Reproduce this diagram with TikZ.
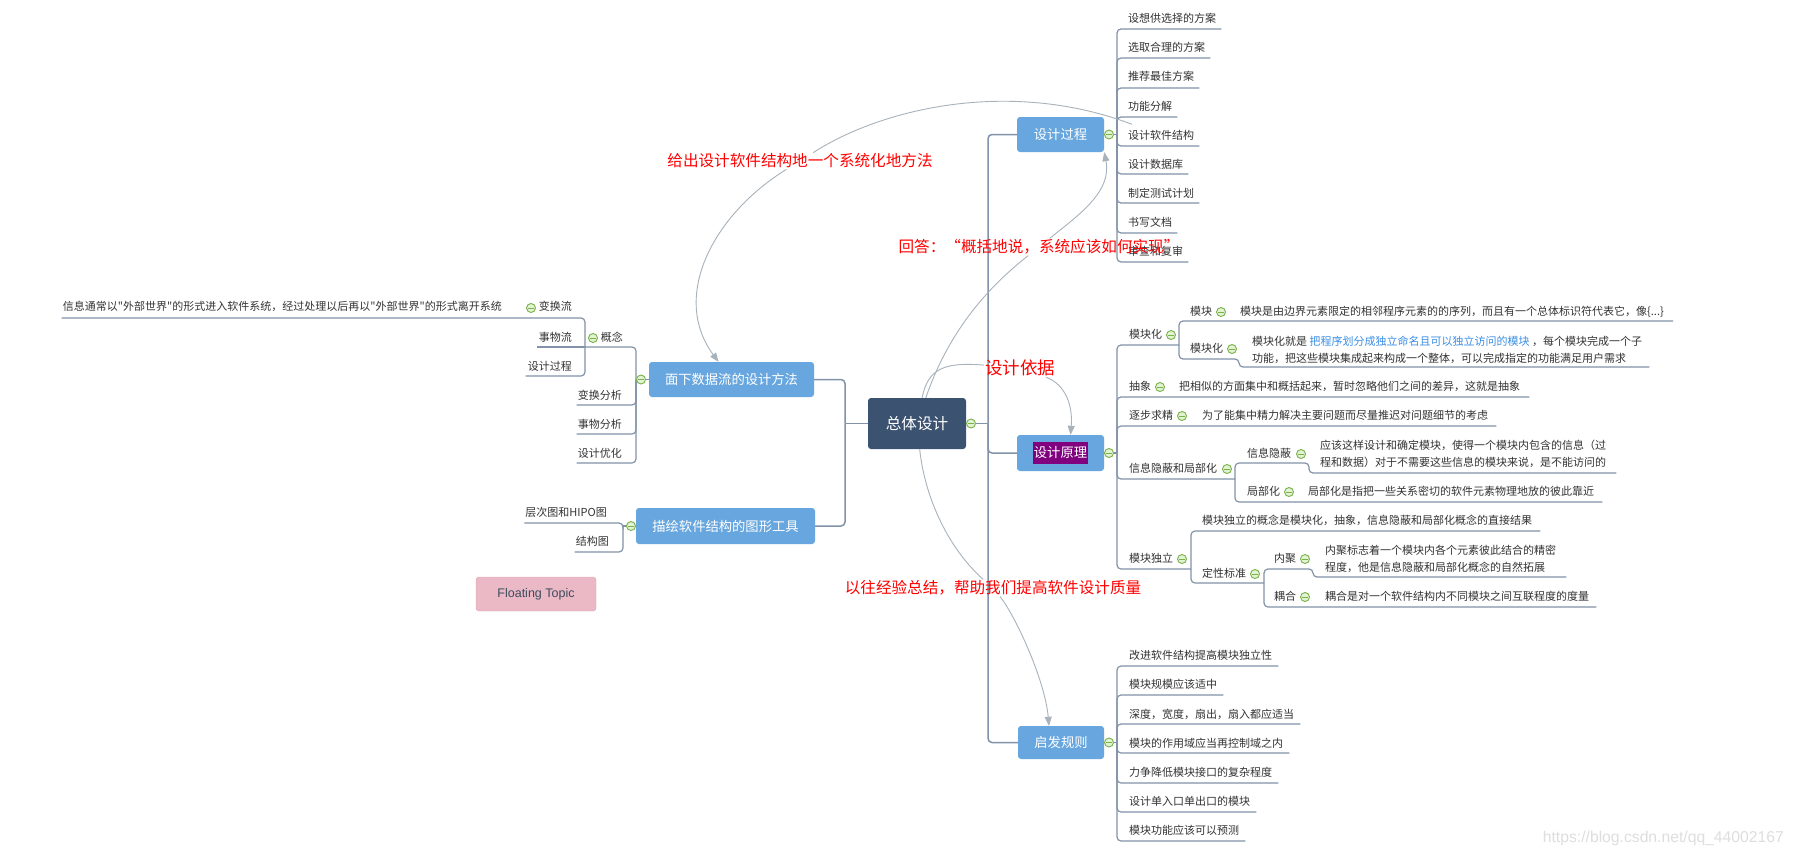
\documentclass[tikz,border=0pt]{standalone}
\usepackage{fontspec}
\setmainfont{Noto Sans CJK SC}
\newfontfamily\cjkp{Noto Sans CJK SC}
\newfontfamily\latf{Liberation Sans}
\usetikzlibrary{arrows.meta}
\definecolor{lnc}{HTML}{8292A8}
\definecolor{txt}{HTML}{333333}
\definecolor{tblue}{HTML}{67A6DE}
\definecolor{tnavy}{HTML}{3C5271}
\definecolor{colg}{HTML}{78B24A}
\definecolor{colf}{HTML}{E4F2D4}
\definecolor{relc}{HTML}{A8B2BA}
\definecolor{hl}{HTML}{800080}
\definecolor{lblue}{HTML}{3A8EE6}
\definecolor{ftf}{HTML}{EBB9C6}
\definecolor{ftd}{HTML}{E2A2B4}
\definecolor{ftt}{HTML}{3E4C5E}
\newcommand\fsz[1]{\fontsize{#1}{#1}\selectfont}
\newcommand\sq{{\cjkp"}}
\begin{document}
\begin{tikzpicture}[x=1pt,y=-1pt,
 ln/.style={draw=lnc, line width=1.2pt, rounded corners=4pt},
 it/.style={font=\fsz{11}, text=txt, inner sep=0pt, text height=9pt, text depth=2pt, anchor=west},
 itr/.style={it, anchor=east},
 ml/.style={font=\fontsize{11}{17}\selectfont, text=txt, inner sep=0pt, align=left, anchor=west},
 topic/.style={fill=tblue, text=white, rounded corners=3pt, font=\fsz{13.3}, inner sep=0pt, minimum height=35pt},
 col/.style={circle, draw=colg, fill=colf, line width=0.9pt, minimum size=9pt, inner sep=0pt,
   path picture={\draw[colg,line width=1pt] ([xshift=-2.6pt]path picture bounding box.center) -- ([xshift=2.6pt]path picture bounding box.center);}},
 rel/.style={draw=relc, line width=0.9pt},
 relarr/.style={rel, -{Triangle[length=9pt,width=7pt]}},
 note/.style={text=red, font=\fsz{15.6}, inner sep=1pt}]
\fill[white] (0,0) rectangle (1796,857);
\useasboundingbox (0,0) rectangle (1796,857);

% main topics
\node[topic, fill=tnavy, font=\fsz{15.6}, minimum width=98pt, minimum height=51pt] (zt) at (917,423.5) {总体设计};
\node[topic, minimum width=87pt] (sjgc) at (1060.5,134.5) {设计过程};
\node[topic, minimum width=87pt, minimum height=36pt] (ylyl) at (1060.5,453) {};
\node[fill=hl, text=white, font=\fsz{13.3}, inner xsep=0.5pt, inner ysep=4.5pt, text height=10.5pt, text depth=2.5pt] (ylt) at (ylyl.center) {设计原理};
\node[topic, minimum width=86pt, minimum height=33pt] (qf) at (1061,742.5) {启发规则};
\node[topic, minimum width=165pt] (mx) at (731.5,379.5) {面下数据流的设计方法};
\node[topic, minimum width=179pt, minimum height=36pt] (hz) at (725.5,526) {描绘软件结构的图形工具};
\node[fill=ftf, draw=ftd, rounded corners=3pt, minimum width=120pt, minimum height=34pt, text=ftt, font=\latf\fsz{12.5}] (ft) at (536,594) {Floating Topic};

% trunks
\coordinate (zr) at (988,423.5);
\coordinate (zl) at (845,423.5);
\draw[ln, line width=1.5pt] (zt.east) -- (zr);
\draw[ln, line width=1.5pt] (zr) |- (sjgc.west);
\draw[ln, line width=1.5pt] (zr) |- (ylyl.west);
\draw[ln, line width=1.5pt] (zr) |- (qf.west);
\draw[ln, line width=1.5pt] (zt.west) -- (zl);
\draw[ln, line width=1.5pt] (zl) |- (mx.east);
\draw[ln, line width=1.5pt] (zl) |- (hz.east);

% 设计过程
\coordinate (b1) at (1117,134.5);
\draw[ln] (sjgc.east) -- (b1);
\foreach \nn/\tx/\cy/\uy in {1/设想供选择的方案/19/29, 2/选取合理的方案/48/58, 3/推荐最佳方案/77/88, 4/功能分解/107/117, 5/设计软件结构/136/146, 6/设计数据库/165/174, 7/制定测试计划/194/203, 8/书写文档/223/233, 9/审查和复审/252/262}
{\node[it] (d\nn) at (1128,\cy) {\tx};
 \draw[ln] (b1) |- ([xshift=5pt]d\nn.east |- 0,\uy);}

% 启发规则
\coordinate (b3) at (1117,742.5);
\draw[ln] (qf.east) -- (b3);
\foreach \nn/\tx/\cy/\uy in {1/改进软件结构提高模块独立性/656/666, 2/模块规模应该适中/685/695, 3/深度，宽度，扇出，扇入都应适当/715/724, 4/模块的作用域应当再控制域之内/744/753, 5/力争降低模块接口的复杂程度/773/783, 6/设计单入口单出口的模块/802/812, 7/模块功能应该可以预测/831/841}
{\node[it] (h\nn) at (1129,\cy) {\tx};
 \draw[ln] (b3) |- ([xshift=6pt]h\nn.east |- 0,\uy);}

% 设计原理
\coordinate (b2) at (1117,453);
\draw[ln] (ylyl.east) -- (b2);
\node[it] (a1) at (1129,335) {模块化};
\coordinate (b21) at (1179,345);
\draw[ln] (b2) |- (b21);
\node[it] (a11) at (1190,312) {模块};
\node[it] (a111) at (1240,312) {模块是由边界元素限定的相邻程序元素的的序列，而且有一个总体标识符代表它，像\{...\}};
\draw[ln] (b21) |- ([xshift=9pt]a111.east |- 0,321);
\node[it] (a12) at (1190,349) {模块化};
\node[ml] (a121) at (1252,350) {模块化就是 {\color{lblue}把程序划分成独立命名且可以独立访问的模块} ，每个模块完成一个子\\功能，把这些模块集成起来构成一个整体，可以完成指定的功能满足用户需求};
\draw[ln] (b21) |- (1239,359) |- ([xshift=7pt]a121.east |- 0,367);

\node[it] (a2) at (1129,387) {抽象};
\node[it] (a21) at (1179,387) {把相似的方面集中和概括起来，暂时忽略他们之间的差异，这就是抽象};
\draw[ln] (b2) |- ([xshift=9pt]a21.east |- 0,397);

\node[it] (a3) at (1129,416) {逐步求精};
\node[it] (a31) at (1202,416) {为了能集中精力解决主要问题而尽量推迟对问题细节的考虑};
\draw[ln] (b2) |- ([xshift=8pt]a31.east |- 0,426);

\node[it] (a4) at (1129,469) {信息隐蔽和局部化};
\coordinate (b24) at (1235,479);
\draw[ln] (b2) |- (b24);
\node[it] (a41) at (1247,454) {信息隐蔽};
\node[ml] (a411) at (1320,454) {应该这样设计和确定模块，使得一个模块内包含的信息（过\\程和数据）对于不需要这些信息的模块来说，是不能访问的};
\draw[ln] (b24) |- (1309,463) |- ([xshift=10pt]a411.east |- 0,473);
\node[it] (a42) at (1247,492) {局部化};
\node[it] (a421) at (1308,492) {局部化是指把一些关系密切的软件元素物理地放的彼此靠近};
\draw[ln] (b24) |- ([xshift=8pt]a421.east |- 0,502);

\node[it] (a5) at (1129,559) {模块独立};
\coordinate (b25) at (1191,569);
\draw[ln] (b2) |- (b25);
\node[it] (a51) at (1202,521) {模块独立的概念是模块化，抽象，信息隐蔽和局部化概念的直接结果};
\draw[ln] (b25) |- ([xshift=8pt]a51.east |- 0,531);
\node[it] (a52) at (1202,574) {定性标准};
\coordinate (b252) at (1264,583);
\draw[ln] (b25) |- (b252);
\node[it] (a521) at (1274,559) {内聚};
\node[ml] (a5211) at (1325,559) {内聚标志着一个模块内各个元素彼此结合的精密\\程度，他是信息隐蔽和局部化概念的自然拓展};
\draw[ln] (b252) |- (1313,569) |- ([xshift=10pt]a5211.east |- 0,577);
\node[it] (a522) at (1274,597) {耦合};
\node[it] (a5221) at (1325,597) {耦合是对一个软件结构内不同模块之间互联程度的度量};
\draw[ln] (b252) |- ([xshift=7pt]a5221.east |- 0,607);

% 面下数据流的设计方法
\coordinate (bm) at (636,379.5);
\draw[ln] (mx.west) -- (bm);
\node[itr] (l1) at (623,338) {概念};
\coordinate (bl1) at (585,347);
\draw[ln] (bm) |- (bl1);
\node[itr] (l11) at (572,307) {变换流};
\node[itr] (l111) at (502,307) {信息通常以\sq 外部世界\sq 的形式进入软件系统，经过处理以后再以\sq 外部世界\sq 的形式离开系统};
\draw[ln] (bl1) |- ([xshift=-1pt]l111.west |- 0,318);
\node[itr] (l12) at (572,338) {事物流};
\draw[ln] (bl1) -- ([xshift=-2pt]l12.west |- 0,347);
\node[itr] (l13) at (572,367) {设计过程};
\draw[ln] (bl1) |- ([xshift=-2pt]l13.west |- 0,376);
\node[itr] (l2) at (622,396) {变换分析};
\draw[ln] (bm) |- ([xshift=-1pt]l2.west |- 0,405);
\node[itr] (l3) at (622,425) {事物分析};
\draw[ln] (bm) |- ([xshift=-1pt]l3.west |- 0,434);
\node[itr] (l4) at (622,454) {设计优化};
\draw[ln] (bm) |- ([xshift=-1pt]l4.west |- 0,463);

% 描绘软件结构的图形工具
\coordinate (bh) at (623,526);
\draw[ln] (hz.west) -- (bh);
\node[itr] (m1) at (607,513) {层次图和HIPO图};
\draw[ln] (bh) |- ([xshift=-1pt]m1.west |- 0,523);
\node[itr] (m2) at (609,542) {结构图};
\draw[ln] (bh) |- ([xshift=-1pt]m2.west |- 0,552);

% collapse markers
\node[col] (c0) at (971,423.5) {};
\node[col] (c1) at (1109,134.5) {};
\node[col] (c2) at (1109,453) {};
\node[col] (c3) at (1109,742.5) {};
\node[col] (ca1) at (1171,335) {};
\node[col] (ca11) at (1221,312) {};
\node[col] (ca12) at (1232,349) {};
\node[col] (ca2) at (1160,387) {};
\node[col] (ca3) at (1182,416) {};
\node[col] (ca4) at (1227,469) {};
\node[col] (ca41) at (1301,454) {};
\node[col] (ca42) at (1289,492) {};
\node[col] (ca5) at (1182,559) {};
\node[col] (ca52) at (1255,574) {};
\node[col] (ca521) at (1305,559) {};
\node[col] (ca522) at (1305,597) {};
\node[col] (cm) at (641,379.5) {};
\node[col] (cl1) at (593,338) {};
\node[col] (cl11) at (531,308) {};
\node[col] (ch) at (631,526) {};

% relationship notes
\node[note] (n1) at (800,161) {给出设计软件结构地一个系统化地方法};
\node[note] (n2) at (1039,247) {回答：“概括地说，系统应该如何实现”};
\node[note, font=\fsz{17.5}] (n3) at (1020,368) {设计依据};
\node[note] (n4) at (993,588) {以往经验总结，帮助我们提高软件设计质量};

\draw[rel] ([xshift=4pt,yshift=6pt]d5.north west) .. controls (1014,79.5) and (886,106) .. (n1);
\draw[relarr] (n1) .. controls (714,214) and (670,296) .. (mx);
\draw[rel] (zt) .. controls (952.5,320) and (1000,278) .. (n2);
\draw[relarr] (n2) .. controls (1080,214) and (1112,191.5) .. (sjgc.south east);
\draw[rel] (zt) .. controls (928,368) and (945,362) .. (n3);
\draw[relarr] (n3) .. controls (1065,384) and (1073,405) .. ([xshift=10pt]ylyl.north);
\draw[rel] (zt) .. controls (925,500) and (950,550) .. (n4);
\draw[relarr] (n4) .. controls (1015,615) and (1045,680) .. ([xshift=-12pt]qf.north);

\node[text=black!13, font=\latf\fsz{15.7}, anchor=east, inner sep=0pt] (wm) at (1784,838) {https://blog.csdn.net/qq\_44002167};
\end{tikzpicture}
\end{document}
